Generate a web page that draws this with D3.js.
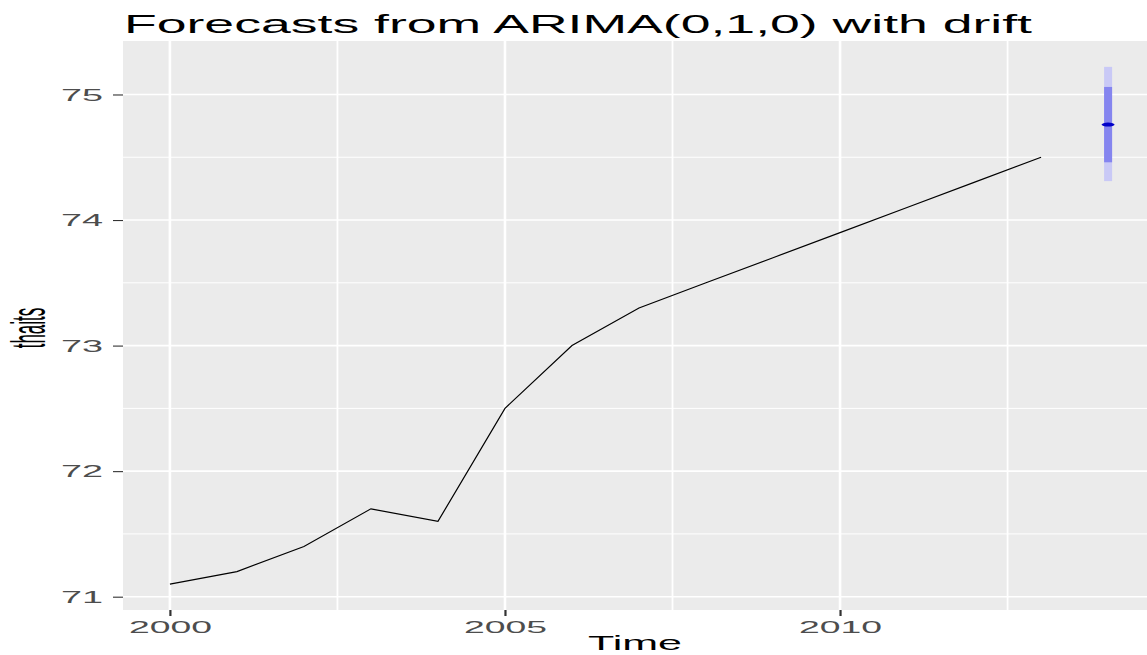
<!DOCTYPE html>
<html>
<head>
<meta charset="utf-8">
<script src="https://cdn.jsdelivr.net/npm/d3@7/dist/d3.min.js"></script>
<style>
  html, body { margin: 0; padding: 0; background: #ffffff; }
  svg { display: block; font-family: "Liberation Sans", Arial, sans-serif; }
</style>
</head>
<body>
<svg id="chart" width="1147" height="655"></svg>
<script>
// Observed series: annual values
const years = [2000, 2001, 2002, 2003, 2004, 2005, 2006, 2007, 2008, 2009, 2010, 2011, 2012, 2013];
const values = [71.1, 71.2, 71.4, 71.7, 71.6, 72.5, 73.0, 73.3, 73.5, 73.7, 73.9, 74.1, 74.3, 74.5];

// One-step forecast with 80% and 95% prediction intervals
const fcYear = [2014];
const fcMean = [74.76];
const fcLo80 = [74.46];
const fcHi80 = [75.06];
const fcLo95 = [74.31];
const fcHi95 = [75.22];

const xTicks = [2000, 2005, 2010];
const xMinor = [2002.5, 2007.5, 2012.5];
const yTicks = [71, 72, 73, 74, 75];
const yMinor = [71.5, 72.5, 73.5, 74.5];

const svg = d3.select("#chart");
const panel = { left: 123, right: 1155, top: 41, bottom: 610 };

// 5% expansion of the data range on each side
const xAll = years.concat(fcYear);
const xMin = d3.min(xAll), xMax = d3.max(xAll);
const xPad = (xMax - xMin) * 0.05;
const yAll = values.concat(fcLo95, fcHi95);
const yMin = d3.min(yAll), yMax = d3.max(yAll);
const yPad = (yMax - yMin) * 0.05;

const x = d3.scaleLinear().domain([xMin - xPad, xMax + xPad]).range([panel.left, panel.right]);
const y = d3.scaleLinear().domain([yMin - yPad, yMax + yPad]).range([panel.bottom, panel.top]);

// Panel background
svg.append("rect")
  .attr("x", panel.left).attr("y", panel.top)
  .attr("width", panel.right - panel.left).attr("height", panel.bottom - panel.top)
  .attr("fill", "#ebebeb");

const grid = svg.append("g");
grid.selectAll(".ymin").data(yMinor).enter().append("line")
  .attr("x1", panel.left).attr("x2", panel.right)
  .attr("y1", d => y(d)).attr("y2", d => y(d))
  .attr("stroke", "#ffffff").attr("stroke-width", 1);
grid.selectAll(".ymaj").data(yTicks).enter().append("line")
  .attr("x1", panel.left).attr("x2", panel.right)
  .attr("y1", d => y(d)).attr("y2", d => y(d))
  .attr("stroke", "#ffffff").attr("stroke-width", 1.6);
grid.selectAll(".xmin").data(xMinor).enter().append("line")
  .attr("y1", panel.top).attr("y2", panel.bottom)
  .attr("x1", d => x(d)).attr("x2", d => x(d))
  .attr("stroke", "#ffffff").attr("stroke-width", 1.8);
grid.selectAll(".xmaj").data(xTicks).enter().append("line")
  .attr("y1", panel.top).attr("y2", panel.bottom)
  .attr("x1", d => x(d)).attr("x2", d => x(d))
  .attr("stroke", "#ffffff").attr("stroke-width", 2.6);

// Observed line
const line = d3.line().x((d, i) => x(years[i])).y(d => y(d));
svg.append("path")
  .datum(values)
  .attr("d", line)
  .attr("fill", "none")
  .attr("stroke", "#000000")
  .attr("stroke-width", 1.2);

// Forecast intervals and point forecast
const bandW = 8;
const fc = svg.append("g");
fc.selectAll(".b95").data(fcYear).enter().append("rect")
  .attr("x", d => x(d) - bandW / 2).attr("width", bandW)
  .attr("y", (d, i) => y(fcHi95[i]))
  .attr("height", (d, i) => y(fcLo95[i]) - y(fcHi95[i]))
  .attr("fill", "#c9c9f6");
fc.selectAll(".b80").data(fcYear).enter().append("rect")
  .attr("x", d => x(d) - bandW / 2).attr("width", bandW)
  .attr("y", (d, i) => y(fcHi80[i]))
  .attr("height", (d, i) => y(fcLo80[i]) - y(fcHi80[i]))
  .attr("fill", "#8585ef");
fc.selectAll(".pt").data(fcYear).enter().append("ellipse")
  .attr("cx", d => x(d)).attr("cy", (d, i) => y(fcMean[i]))
  .attr("rx", 6.5).attr("ry", 2)
  .attr("fill", "#0000c8");

// Axes
const yAxis = svg.append("g")
  .attr("transform", `translate(${panel.left},0)`)
  .call(d3.axisLeft(y).tickValues(yTicks).tickSize(10).tickPadding(10).tickFormat(d3.format("d")));
yAxis.select(".domain").remove();
yAxis.selectAll(".tick line").attr("stroke", "#333333").attr("stroke-width", 1.1);
yAxis.selectAll(".tick text")
  .attr("fill", "#4d4d4d")
  .attr("font-size", 16)
  .attr("font-family", "Liberation Sans, Arial, sans-serif")
  .attr("dy", "0.36em")
  .attr("textLength", 42)
  .attr("lengthAdjust", "spacingAndGlyphs");

const xAxis = svg.append("g")
  .attr("transform", `translate(0,${panel.bottom})`)
  .call(d3.axisBottom(x).tickValues(xTicks).tickSize(6).tickPadding(6).tickFormat(d3.format("d")));
xAxis.select(".domain").remove();
xAxis.selectAll(".tick line").attr("stroke", "#333333").attr("stroke-width", 2.2);
xAxis.selectAll(".tick text")
  .attr("fill", "#4d4d4d")
  .attr("font-size", 16)
  .attr("font-family", "Liberation Sans, Arial, sans-serif")
  .attr("textLength", 83)
  .attr("lengthAdjust", "spacingAndGlyphs");

// Titles
svg.append("text")
  .attr("x", 124).attr("y", 33)
  .attr("font-size", 25)
  .attr("fill", "#000000")
  .attr("textLength", 908)
  .attr("lengthAdjust", "spacingAndGlyphs")
  .text("Forecasts from ARIMA(0,1,0) with drift");

svg.append("text")
  .attr("x", 635).attr("y", 650)
  .attr("text-anchor", "middle")
  .attr("font-size", 20)
  .attr("fill", "#000000")
  .attr("textLength", 94)
  .attr("lengthAdjust", "spacingAndGlyphs")
  .text("Time");

svg.append("text")
  .attr("transform", "translate(45,328) scale(2.8,1) rotate(-90)")
  .attr("text-anchor", "middle")
  .attr("font-size", 17)
  .attr("fill", "#000000")
  .text("thaits");
</script>
</body>
</html>
